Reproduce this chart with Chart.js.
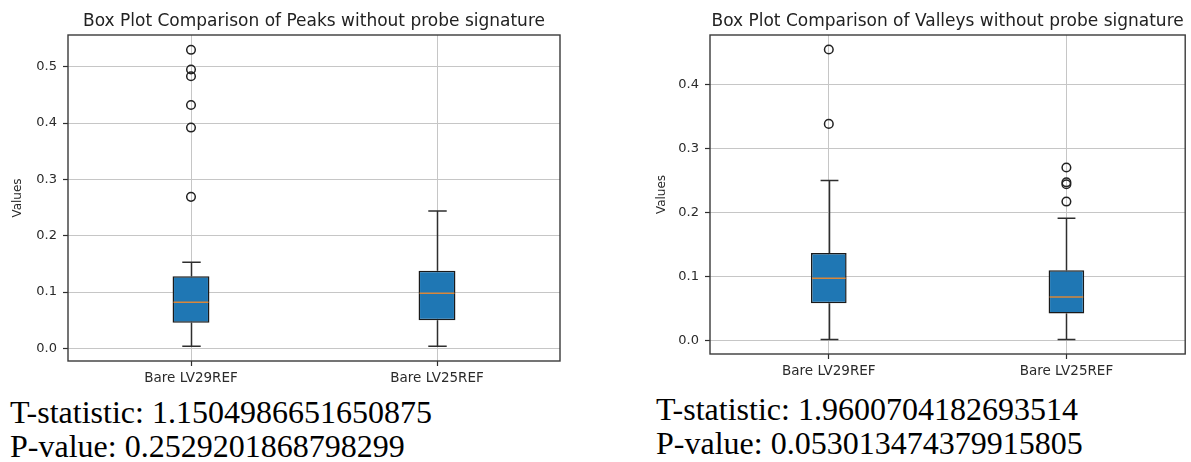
<!DOCTYPE html>
<html>
<head>
<meta charset="utf-8">
<script src="https://cdn.jsdelivr.net/npm/chart.js@4.4.1/dist/chart.umd.min.js"></script>
<style>
  html, body { margin: 0; padding: 0; background: #fff; width: 1191px; height: 462px; overflow: hidden; }
  body { position: relative; }
  canvas { position: absolute; top: 0; }
  #c1 { left: 0; }
  #c2 { left: 600px; }
  .stat { position: absolute; font-family: "Liberation Serif", "Times New Roman", serif; font-size: 32px; color: #000; white-space: nowrap; line-height: 36px; }
</style>
</head>
<body>
<canvas id="c1" width="600" height="390"></canvas>
<canvas id="c2" width="591" height="390"></canvas>
<div class="stat" style="left:10px; top:394px;">T-statistic: 1.1504986651650875</div>
<div class="stat" style="left:10px; top:428px;">P-value: 0.2529201868798299</div>
<div class="stat" style="left:656px; top:391px;">T-statistic: 1.9600704182693514</div>
<div class="stat" style="left:656px; top:425px;">P-value: 0.053013474379915805</div>
<script>
// ---------- data ----------
const categories = ['Bare LV29REF', 'Bare LV25REF'];

const peaksTitle = 'Box Plot Comparison of Peaks without probe signature';
const peaksYTicks = [0.0, 0.1, 0.2, 0.3, 0.4, 0.5];
const peaksYRange = [-0.0223, 0.5563];
const peaksWhiskerLow = [0.004, 0.004];
const peaksQ1 = [0.0455, 0.050];
const peaksMedian = [0.082, 0.098];
const peaksQ3 = [0.128, 0.138];
const peaksWhiskerHigh = [0.153, 0.244];
const peaksOutliersLV29 = [0.530, 0.495, 0.483, 0.432, 0.392, 0.269];
const peaksOutliersLV25 = [];

const valleysTitle = 'Box Plot Comparison of Valleys without probe signature';
const valleysYTicks = [0.0, 0.1, 0.2, 0.3, 0.4];
const valleysYRange = [-0.0206, 0.4766];
const valleysWhiskerLow = [0.002, 0.002];
const valleysQ1 = [0.0586, 0.0426];
const valleysMedian = [0.0974, 0.0684];
const valleysQ3 = [0.137, 0.110];
const valleysWhiskerHigh = [0.250, 0.191];
const valleysOutliersLV29 = [0.454, 0.338];
const valleysOutliersLV25 = [0.270, 0.247, 0.244, 0.217];

// ---------- styling ----------
const FONT = "'DejaVu Sans', Verdana, sans-serif";
const TEXT = '#2a2a2a';
const GRID = '#c6c6c6';
const LINE = '#2e2e2e';
const BOX_FILL = '#1f77b4';
const MEDIAN = '#d9873a';

const boxExtras = {
  id: 'boxExtras',
  beforeDatasetsDraw(chart, args, opts) {
    const { ctx, scales: { y } } = chart;
    const meta = chart.getDatasetMeta(0);
    ctx.save();
    ctx.strokeStyle = LINE;
    ctx.lineWidth = 1.5;
    meta.data.forEach((bar, i) => {
      const cx = Math.round(bar.x) + 0.5;
      const capHalf = bar.width / 4;
      const yLo = y.getPixelForValue(opts.low[i]);
      const yQ1 = y.getPixelForValue(opts.q1[i]);
      const yQ3 = y.getPixelForValue(opts.q3[i]);
      const yHi = y.getPixelForValue(opts.high[i]);
      ctx.beginPath();
      ctx.moveTo(cx, yQ1); ctx.lineTo(cx, yLo);
      ctx.moveTo(cx, yQ3); ctx.lineTo(cx, yHi);
      ctx.moveTo(cx - capHalf, yLo); ctx.lineTo(cx + capHalf, yLo);
      ctx.moveTo(cx - capHalf, yHi); ctx.lineTo(cx + capHalf, yHi);
      ctx.stroke();
    });
    ctx.restore();
  },
  afterDatasetsDraw(chart, args, opts) {
    const { ctx, chartArea, scales: { y } } = chart;
    const meta = chart.getDatasetMeta(0);
    ctx.save();
    ctx.strokeStyle = MEDIAN;
    ctx.lineWidth = 1.5;
    meta.data.forEach((bar, i) => {
      const ym = y.getPixelForValue(opts.median[i]);
      ctx.beginPath();
      ctx.moveTo(bar.x - bar.width / 2 + 1, ym);
      ctx.lineTo(bar.x + bar.width / 2 - 1, ym);
      ctx.stroke();
    });
    ctx.strokeStyle = '#3a3a3a';
    ctx.lineWidth = 1.4;
    ctx.strokeRect(chartArea.left, chartArea.top, chartArea.right - chartArea.left, chartArea.bottom - chartArea.top);
    ctx.restore();
  }
};

function makeBoxChart(id, cfg) {
  const outlierData = [];
  cfg.outliers.forEach((list, i) => list.forEach(v => outlierData.push({ x: categories[i], y: v })));
  return new Chart(document.getElementById(id), {
    type: 'bar',
    data: {
      labels: categories,
      datasets: [
        {
          type: 'bar',
          data: categories.map((c, i) => [cfg.q1[i], cfg.q3[i]]),
          backgroundColor: BOX_FILL,
          borderColor: '#1a1a1a',
          borderWidth: 1.5,
          borderSkipped: false,
          barPercentage: 0.15,
          categoryPercentage: 1.0
        },
        {
          type: 'line',
          data: outlierData,
          showLine: false,
          pointRadius: 4.3,
          pointBorderWidth: 1.5,
          pointBorderColor: '#222',
          pointBackgroundColor: 'rgba(0,0,0,0)'
        }
      ]
    },
    options: {
      responsive: false,
      animation: false,
      layout: { padding: cfg.padding },
      plugins: {
        legend: { display: false },
        tooltip: { enabled: false },
        title: {
          display: true,
          text: cfg.title,
          fullSize: false,
          color: '#222',
          font: { family: FONT, size: 17, weight: 'normal', lineHeight: 1.2 },
          padding: { top: 11.4, bottom: 3.2 }
        },
        boxExtras: {
          low: cfg.low, q1: cfg.q1, median: cfg.median, q3: cfg.q3, high: cfg.high
        }
      },
      scales: {
        x: {
          grid: { offset: false, color: GRID, lineWidth: 1, tickColor: LINE, tickLength: 5, tickWidth: 1.2 },
          border: { display: false },
          ticks: { color: TEXT, font: { family: FONT, size: 13.5 }, padding: 3.9, maxRotation: 0 },
          afterFit: s => { s.height = cfg.xHeight; }
        },
        y: {
          min: cfg.yRange[0],
          max: cfg.yRange[1],
          afterBuildTicks: s => { s.ticks = cfg.yTicks.map(v => ({ value: v })); },
          grid: { color: GRID, lineWidth: 1, tickColor: LINE, tickLength: 5, tickWidth: 1.2 },
          border: { display: false },
          ticks: { color: TEXT, font: { family: FONT, size: 13 }, padding: 6, callback: v => Number(v).toFixed(1) },
          title: {
            display: true,
            text: 'Values',
            color: TEXT,
            font: { family: FONT, size: 12, lineHeight: 1.2 },
            padding: { top: cfg.yTitlePad, bottom: 0 }
          },
          afterFit: s => { s.width = cfg.yWidth; }
        }
      }
    },
    plugins: [boxExtras]
  });
}

makeBoxChart('c1', {
  title: peaksTitle,
  yTicks: peaksYTicks, yRange: peaksYRange,
  low: peaksWhiskerLow, q1: peaksQ1, median: peaksMedian, q3: peaksQ3, high: peaksWhiskerHigh,
  outliers: [peaksOutliersLV29, peaksOutliersLV25],
  padding: { left: 0, right: 40, top: 0, bottom: 0 },
  yWidth: 68, xHeight: 29, yTitlePad: 10.8
});

makeBoxChart('c2', {
  title: valleysTitle,
  yTicks: valleysYTicks, yRange: valleysYRange,
  low: valleysWhiskerLow, q1: valleysQ1, median: valleysMedian, q3: valleysQ3, high: valleysWhiskerHigh,
  outliers: [valleysOutliersLV29, valleysOutliersLV25],
  padding: { left: 0, right: 1, top: 0, bottom: 0 },
  yWidth: 110, xHeight: 36, yTitlePad: 54.8
});
</script>
</body>
</html>
